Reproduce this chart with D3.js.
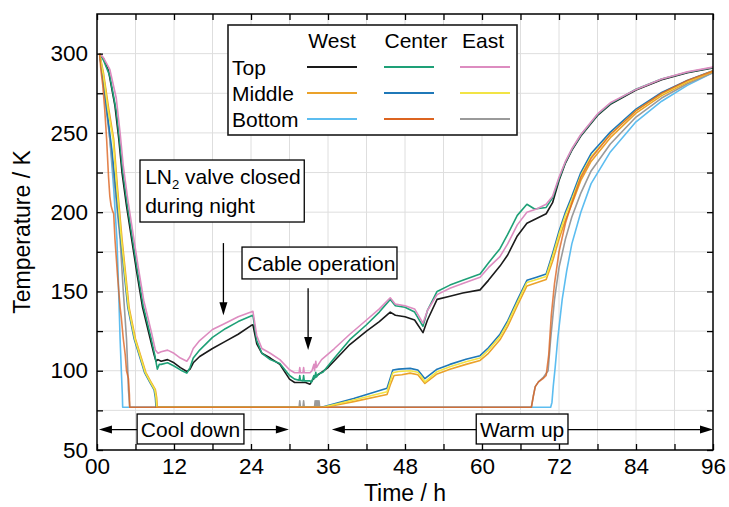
<!DOCTYPE html>
<html>
<head>
<meta charset="utf-8">
<script src="https://cdn.jsdelivr.net/npm/d3@7"></script>
<style>
body { margin: 0; background: #fff; }
svg { font-family: "Liberation Sans", Arial, sans-serif; }
</style>
</head>
<body>
<svg width="729" height="507"></svg>
<script>
// [time h, temperature K]
const westTop = [[0.4,300],[1,297],[1.8,289],[2.8,267],[3.4,246],[3.9,225],[4.6,204],[5.4,183],[6.2,162],[7.1,140],[8.3,120],[8.9,110],[9.2,106],[9.5,107],[10,106],[11,107],[12,105],[13,102],[14,99.5],[14.5,101],[15,105],[16,109],[18,114],[20,118.5],[22,123],[24,128.5],[24.3,129],[24.9,117],[25.7,111],[27,108],[28.5,104],[30,94.7],[30.8,92.6],[32.5,92.6],[33.2,91.5],[33.8,95.5],[36,102],[39.4,116.5],[42,125],[44,131],[45.7,137],[46.5,135],[48,134],[49.5,132],[50.8,124],[51.5,132],[53,145],[55,147],[57,149],[59.7,151],[61,157],[62.8,166],[64,173],[65.5,185],[67,193],[68.5,196],[70,199],[71,206],[72,220],[73,231],[74,239],[75.4,248],[78,261],[80,268],[84,277],[88,283.5],[92,288],[96,291]]
const centerTop = [[0.4,300],[1,296],[2,286],[3,264],[3.5,246],[4,226],[4.7,205],[5.5,184],[6.3,163],[7.2,141],[8.4,121],[9,110],[9.4,101],[9.7,104],[10,104],[11,105],[12,103],[13,100.5],[14,98.5],[14.5,102],[15,108],[16,113],[18,121],[20,126.5],[22,131],[24,134.5],[24.3,135],[24.9,119],[25.7,111],[27,107],[28.5,104.6],[30,97],[30.8,94.7],[31.5,94],[31.6,97],[31.7,94],[32.1,93.6],[32.2,97],[32.3,93.6],[33.2,93.6],[33.4,92.6],[33.8,97],[33.9,95],[34.1,99],[34.2,96],[34.5,98],[35.2,99],[37,108],[39.4,119.6],[42,129],[44,137],[45.7,145],[46.5,141],[48,140],[49.5,137],[50.8,128],[51.5,138],[53,150],[55,154],[57,157],[59.7,161],[61,168],[62.8,177],[64,186],[65.5,198],[67,205],[68.2,202],[70,203],[71,209],[72,221],[73,231.5],[74,239.5],[75.4,248.5],[78,261.5],[80,268.5],[84,277.5],[88,284],[92,288.3],[96,291.3]]
const eastTop = [[0.4,300],[1,297.5],[2,290],[3,272],[3.6,250],[4.1,229],[4.8,208],[5.6,187],[6.4,166],[7.3,144],[8.5,124],[9.1,113],[9.5,111],[10,112],[11,113],[12,111],[13,108],[14,106],[14.5,109],[15,114],[16,119],[18,126],[20,130],[22,134],[24,137],[24.3,137.5],[24.9,122],[25.7,114],[27,111],[28.5,107],[30,100.6],[30.8,98.7],[31.5,98.7],[31.6,102],[31.7,98.7],[32.1,98.7],[32.2,102],[32.3,98.7],[33.2,98.7],[33.5,100],[33.8,104],[33.9,100],[34.1,106],[34.2,102],[34.5,104],[35,107],[37,114],[39.4,123],[42,132],[44,139],[45.7,146],[46.5,142],[48,141],[49.5,139],[50.8,130],[51.5,138],[53,148],[55,152],[57,155],[59.7,159],[61,165],[62.8,172],[64,180],[65.5,192],[67,200],[68.5,202],[70,205],[71,210],[72,222],[73,232],[74,240],[75.4,249],[78,262],[80,269],[83.8,277],[88,284],[92,288.5],[96,291.5]]

const westMid = [[0.4,300],[1,288],[1.8,266],[2.6,246],[3.2,215],[3.9,183],[5,140],[6,120],[7.6,99],[8.4,93],[9.1,88],[9.3,83],[9.4,77],[35.5,77],[40,80.5],[45.2,85],[45.7,91],[46.3,97],[47.5,97.5],[48.8,98.5],[50,97.5],[50.6,94.5],[51.1,92],[53,98],[55,101],[57.5,104],[59.7,106.5],[61,111],[62.8,119.5],[64,128],[65.5,141],[67,153.5],[68.5,155.5],[70,157.5],[71,169],[72,183],[73,195],[74,205],[75.4,220],[77,232],[80,247],[84,262.5],[88,273.5],[92,282],[96,288.7]]
const centerMid = [[0.4,300],[1,283],[1.6,262],[2.3,240],[3,212],[3.7,183],[4.8,140],[5.8,120],[7.4,99],[8.2,93],[8.9,88],[9.1,83],[9.2,77],[35,77],[40,82.5],[45.2,89],[45.6,94],[46.1,100.5],[47,101],[48.8,101.5],[50,100.5],[50.6,97.5],[51.1,95],[53,101],[55,104],[57.5,107.2],[59.7,109.5],[61,114.5],[62.8,123],[64,131.5],[65.5,144.5],[67,157],[68.5,159],[70,161],[71,174],[72,188],[73,200],[74,210],[75.4,225],[77,237],[80,250.5],[84,265],[88,275.5],[92,283],[96,289.2]]
const eastMid = [[0.4,300],[1,286],[1.7,265],[2.5,246],[3.1,215],[3.8,183],[4.9,140],[5.9,120],[7.5,99],[8.3,93],[9,88],[9.2,83],[9.3,77],[35.2,77],[40,81.5],[45.2,86.7],[45.6,92],[46.1,98.7],[47,99.5],[48.8,100],[50,99],[50.6,96],[51.1,93],[53,99.4],[55,102.5],[57.5,105.7],[59.7,108],[61,113],[62.8,121.5],[64,130],[65.5,143],[67,155.7],[68.5,157.6],[70,159.5],[71,172],[72,186],[73,198],[74,208],[75.4,223],[77,235],[80,249],[84,264],[88,274.5],[92,282.5],[96,289]]

const westBot = [[0.4,300],[0.8,290],[1.3,278],[2,246],[2.6,215],[3.1,183],[3.3,160],[3.45,140],[3.6,120],[3.8,99],[3.95,85],[4,77],[70.7,77],[70.9,80],[71.1,90],[71.4,102],[71.8,120],[72.5,145],[73.2,163],[74,180],[75.4,200],[77,218],[80,238],[84,257],[88,270],[92,280],[96,288]]
const centerBot = [[0.4,300],[0.6,290],[0.9,280],[1.2,265],[1.5,246],[1.8,222],[2,210],[2.2,204],[2.4,201],[2.6,199],[2.8,183],[3.2,160],[3.6,140],[3.8,133],[4.1,120],[4.4,110],[4.6,100],[4.9,95],[5.05,85],[5.1,77],[67.7,77],[68,84],[68.3,90],[68.8,93],[69.5,95],[70,97],[70.4,110],[70.8,135],[71.3,155],[72,175],[73,193],[74,206],[75.4,222],[77,234],[80,249],[84,264],[88,275],[92,283],[96,289]]
const eastBot = [[0.4,300],[1,280],[2,246],[3,207],[3.6,183],[4.1,150],[4.6,120],[4.8,100],[4.9,88],[5.1,77],[31.5,77],[31.6,81],[31.7,77],[32.1,77],[32.2,81],[32.3,77],[33.9,77],[34,81],[34.1,77],[34.2,81],[34.3,77],[34.4,81],[34.5,77],[34.6,81],[34.7,77],[67.7,77],[68,84],[68.3,90],[68.8,93],[69.6,96],[70.3,100],[70.7,120],[71.3,145],[72,165],[73,183],[74,197],[75.4,212],[77,226],[80,243],[84,260],[88,272],[92,281],[96,288]]

const xMajor = [0, 12, 24, 36, 48, 60, 72, 84, 96]
const yMajor = [50, 100, 150, 200, 250, 300]
const cols = ["West", "Center", "East"]
const rows = ["Top", "Middle", "Bottom"]

const series = [
  {col: 0, row: 0, data: westTop, color: "#1a1a1a"},
  {col: 1, row: 0, data: centerTop, color: "#1ea077"},
  {col: 2, row: 0, data: eastTop, color: "#dd8cc0"},
  {col: 0, row: 2, data: westBot, color: "#5cbdf0"},
  {col: 2, row: 2, data: eastBot, color: "#9a9a9a"},
  {col: 0, row: 1, data: westMid, color: "#eba22a"},
  {col: 1, row: 1, data: centerMid, color: "#1f78b8"},
  {col: 2, row: 1, data: eastMid, color: "#f2e445"},
  {col: 1, row: 2, data: centerBot, color: "#dc6420"}
]

const svg = d3.select("svg")
const x = d3.scaleLinear().domain([0, 96]).range([97, 713])
const y = d3.scaleLinear().domain([50, 325]).range([450, 14])

// grid
svg.append("g")
  .selectAll("line")
  .data(d3.range(6, 96, 6))
  .join("line")
  .attr("x1", d => x(d)).attr("x2", d => x(d))
  .attr("y1", y(50)).attr("y2", y(325))
  .attr("stroke", "#dedede").attr("stroke-width", 1)
svg.append("g")
  .selectAll("line")
  .data(d3.range(75, 325, 25))
  .join("line")
  .attr("x1", x(0)).attr("x2", x(96))
  .attr("y1", d => y(d)).attr("y2", d => y(d))
  .attr("stroke", "#dedede").attr("stroke-width", 1)

// lines
svg.append("clipPath").attr("id", "clip")
  .append("rect").attr("x", x(0)).attr("y", y(325))
  .attr("width", x(96) - x(0)).attr("height", y(50) - y(325))

const line = d3.line().x(d => x(d[0])).y(d => y(d[1]))
svg.append("g").attr("clip-path", "url(#clip)")
  .selectAll("path")
  .data(series)
  .join("path")
  .attr("d", d => line(d.data))
  .attr("fill", "none")
  .attr("stroke", d => d.color)
  .attr("stroke-width", 1.6)
  .attr("stroke-linejoin", "round")
  .attr("stroke-opacity", d => d.data === centerBot ? 0.8 : 1)

// axes
function styleAxis(g) {
  g.select(".domain").remove()
  g.selectAll(".tick line").attr("stroke", "#000").attr("stroke-width", 1.3)
  g.selectAll("text").attr("font-size", 22.5).attr("fill", "#000")
    .attr("font-family", '"Liberation Sans", Arial, sans-serif')
}
const minorX = d3.range(6, 96, 12)
const minorY = d3.range(75, 325, 50)

svg.append("g").attr("transform", `translate(0,${y(50)})`)
  .call(d3.axisBottom(x).tickValues(xMajor).tickSize(-6).tickPadding(8)
    .tickFormat(d => d === 0 ? "00" : d))
  .call(styleAxis)
svg.append("g").attr("transform", `translate(0,${y(50)})`)
  .call(d3.axisBottom(x).tickValues(minorX).tickSize(-6).tickFormat(""))
  .call(styleAxis)
svg.append("g").attr("transform", `translate(0,${y(325)})`)
  .call(d3.axisTop(x).tickValues(xMajor.concat(minorX)).tickSize(-6).tickFormat(""))
  .call(styleAxis)
svg.append("g").attr("transform", `translate(${x(0)},0)`)
  .call(d3.axisLeft(y).tickValues(yMajor).tickSize(-6).tickPadding(9))
  .call(styleAxis)
svg.append("g").attr("transform", `translate(${x(0)},0)`)
  .call(d3.axisLeft(y).tickValues(minorY).tickSize(-6).tickFormat(""))
  .call(styleAxis)
svg.append("g").attr("transform", `translate(${x(96)},0)`)
  .call(d3.axisRight(y).tickValues(yMajor.concat(minorY)).tickSize(-6).tickFormat(""))
  .call(styleAxis)

svg.append("rect")
  .attr("x", x(0)).attr("y", y(325))
  .attr("width", x(96) - x(0)).attr("height", y(50) - y(325))
  .attr("fill", "none").attr("stroke", "#000").attr("stroke-width", 1.5)

svg.append("text")
  .attr("x", (x(0) + x(96)) / 2).attr("y", 501)
  .attr("text-anchor", "middle").attr("font-size", 23)
  .text("Time / h")
svg.append("text")
  .attr("transform", `translate(30,${(y(50) + y(325)) / 2}) rotate(-90)`)
  .attr("text-anchor", "middle").attr("font-size", 23)
  .text("Temperature / K")

// annotations
function box(t0, t1, k0, k1) {
  svg.append("rect")
    .attr("x", x(t0)).attr("y", y(k0))
    .attr("width", x(t1) - x(t0)).attr("height", y(k1) - y(k0))
    .attr("fill", "#fff").attr("stroke", "#000").attr("stroke-width", 1.3)
}
function arrowHead(px, py, dx, dy) {
  // tip at px,py; direction dx,dy (unit)
  const L = 13, w = 4
  const bx = px - dx * L, by = py - dy * L
  svg.append("path")
    .attr("d", `M${px},${py}L${bx - dy * w},${by + dx * w}L${bx + dy * w},${by - dx * w}Z`)
    .attr("fill", "#000")
}
function vArrow(t, k0, k1) {
  svg.append("line")
    .attr("x1", x(t)).attr("x2", x(t)).attr("y1", y(k0)).attr("y2", y(k1) - 6)
    .attr("stroke", "#000").attr("stroke-width", 1.3)
  arrowHead(x(t), y(k1), 0, 1)
}
function hArrow(t0, t1, k) {
  svg.append("line")
    .attr("x1", x(t0) + 6).attr("x2", x(t1) - 6).attr("y1", y(k)).attr("y2", y(k))
    .attr("stroke", "#000").attr("stroke-width", 1.3)
  arrowHead(x(t0), y(k), -1, 0)
  arrowHead(x(t1), y(k), 1, 0)
}

// LN2 valve
vArrow(19.7, 180.5, 135)
box(6.7, 32.3, 232.9, 193.8)
const ln = svg.append("text").attr("x", x(7.5)).attr("y", y(218)).attr("font-size", 21)
ln.append("tspan").text("LN")
ln.append("tspan").attr("font-size", 13).attr("dy", 5).text("2")
ln.append("tspan").attr("dy", -5).text(" valve closed")
svg.append("text").attr("x", x(7.5)).attr("y", y(199.5)).attr("font-size", 21)
  .text("during night")

// Cable operation
vArrow(32.9, 152, 113)
box(22.6, 46.75, 178, 157.9)
svg.append("text").attr("x", x(23.4)).attr("y", y(162.8)).attr("font-size", 21)
  .text("Cable operation")

// Cool down / Warm up
hArrow(0.3, 29.9, 62.9)
box(6.25, 22.9, 72.7, 53.8)
svg.append("text").attr("x", x(14.57)).attr("y", y(58.3)).attr("font-size", 21)
  .attr("text-anchor", "middle").text("Cool down")
hArrow(36.6, 96, 62.9)
box(59.1, 73.4, 72.7, 53.8)
svg.append("text").attr("x", x(66.25)).attr("y", y(58.3)).attr("font-size", 21)
  .attr("text-anchor", "middle").text("Warm up")

// legend
const lg = svg.append("g")
lg.append("rect").attr("x", 228).attr("y", 25).attr("width", 289).attr("height", 110)
  .attr("fill", "#fff").attr("stroke", "#1a1a1a").attr("stroke-width", 1.6)
const colX = [332, 409, 485]
const rowY = [67, 93, 119]
lg.selectAll(".colh").data(cols).join("text")
  .attr("x", (d, i) => [332, 416, 483][i]).attr("y", 47.5)
  .attr("text-anchor", "middle").attr("font-size", 21)
  .text(d => d)
lg.selectAll(".rowh").data(rows).join("text")
  .attr("x", 232).attr("y", (d, i) => rowY[i] + 8)
  .attr("font-size", 21)
  .text(d => d)
lg.selectAll("line").data(series).join("line")
  .attr("x1", d => colX[d.col] - 25).attr("x2", d => colX[d.col] + 25)
  .attr("y1", d => rowY[d.row]).attr("y2", d => rowY[d.row])
  .attr("stroke", d => d.color).attr("stroke-width", 2)
</script>
</body>
</html>
